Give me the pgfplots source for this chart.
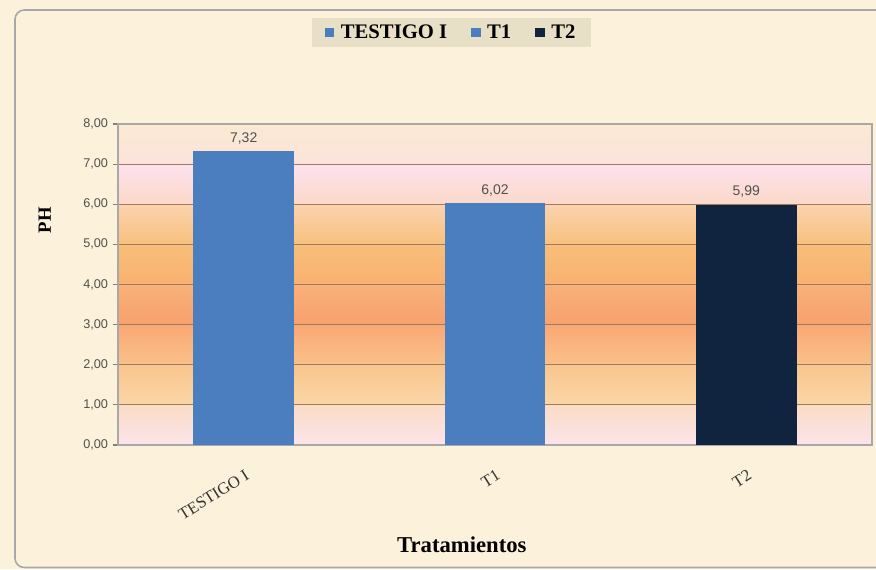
\documentclass[border=0pt]{standalone}
\usepackage{fontspec}
\setmainfont{Liberation Serif}
\setsansfont{Liberation Sans}
\usepackage{pgfplots}
\pgfplotsset{compat=1.18}

\definecolor{paper}{HTML}{FCF1DA}
\definecolor{framegray}{HTML}{A8A8A8}
\definecolor{barblue}{HTML}{4A7EBF}
\definecolor{barnavy}{HTML}{10243F}
\definecolor{gridbrown}{HTML}{9C7C5E}
\definecolor{legbg}{HTML}{E8E0C6}
\definecolor{ticktext}{HTML}{505050}

\begin{document}
\begin{tikzpicture}
% page = 876 x 569 px, 1 px = 0.75 pt, origin at the lower left of the plot area
\useasboundingbox (-88.5pt,-93pt) rectangle (568.5pt,333.75pt);
\begin{scope}
\clip (-88.5pt,-93pt) rectangle (568.5pt,333.75pt);
\fill[paper] (-88.5pt,-93pt) rectangle (568.5pt,333.75pt);
\draw[framegray, line width=1.2pt, fill=paper, rounded corners=7pt]
  (-77.25pt,-91.9pt) rectangle (590pt,326.25pt);
\end{scope}

% background bands of the plot area, one gradient per unit
\foreach \k/\bot/\top in {0/FCE4EA/FADCC6, 1/FAD6A6/F9C58E, 2/F9C18A/F9A874,
    3/F7A06E/F8B178, 4/F8B070/F8BE7A, 5/F8C07C/FBD3B0, 6/FBD8C8/FDE2EE,
    7/FBE3DA/FBE9D3} {
  \definecolor{cb}{HTML}{\bot}
  \definecolor{ct}{HTML}{\top}
  \shade[bottom color=cb, top color=ct]
    (0pt,{\k*30.09375pt}) rectangle (565.5pt,{(\k+1)*30.09375pt});
}

\begin{axis}[
  at={(0pt,0pt)}, anchor=south west,
  width=565.5pt, height=240.75pt, scale only axis,
  ybar, bar width=0.4,
  xmin=-0.5, xmax=2.5, ymin=0, ymax=8,
  xtick={0,1,2},
  xticklabels={TESTIGO I, T1, T2},
  major x tick style={draw=none},
  extra x ticks={-0.5,0.5,1.5,2.5},
  extra x tick labels={},
  extra x tick style={major tick length=5pt, tick style={draw=gray}},
  ytick={0,1,...,8},
  tick align=outside,
  xtick pos=bottom, ytick pos=left,
  major tick length=4pt,
  tick style={draw=gray, line width=0.8pt},
  ymajorgrids,
  grid style={gridbrown, line width=0.9pt},
  axis line style={draw=framegray, line width=0.9pt},
  yticklabel style={font=\sffamily\fontsize{9.5}{10}\selectfont, text=ticktext,
    /pgf/number format/.cd, fixed, fixed zerofill, precision=2, use comma,
    assume math mode=true},
  xticklabel style={font=\fontsize{12.5}{13}\selectfont, text=black!80,
    rotate=32, anchor=north east, inner sep=0pt, yshift=-12pt, xshift=-7pt},
  xlabel={Tratamientos},
  xlabel style={at={(axis description cs:0.456,-0.3115)}, anchor=center,
    font=\bfseries\fontsize{17}{19}\selectfont},
  ylabel={PH},
  ylabel style={at={(axis description cs:-0.097,0.70)}, anchor=center,
    font=\bfseries\fontsize{14}{16}\selectfont},
  nodes near coords={\pgfmathprintnumber[fixed,fixed zerofill,precision=2,use comma,assume math mode=true]{\pgfplotspointmeta}},
  nodes near coords style={font=\sffamily\fontsize{10.5}{12}\selectfont,
    text=ticktext, anchor=south, yshift=2pt},
  legend columns=3,
  legend style={at={(axis description cs:0.4423,1.285)}, anchor=center,
    draw=none, fill=legbg, font=\bfseries\fontsize{15.5}{17}\selectfont,
    inner xsep=10pt, inner ysep=3pt,
    /tikz/every odd column/.append style={column sep=3pt},
    /tikz/every even column/.append style={column sep=16pt}},
  legend image code/.code={\fill[#1] (0pt,-3.5pt) rectangle (7pt,3.5pt);},
]
\addplot[fill=barblue, draw=none, bar shift=0pt] coordinates {(0,7.32)};
\addplot[fill=barblue, draw=none, bar shift=0pt] coordinates {(1,6.02)};
\addplot[fill=barnavy, draw=none, bar shift=0pt] coordinates {(2,5.99)};
\legend{TESTIGO I, T1, T2}
\end{axis}
\end{tikzpicture}
\end{document}
